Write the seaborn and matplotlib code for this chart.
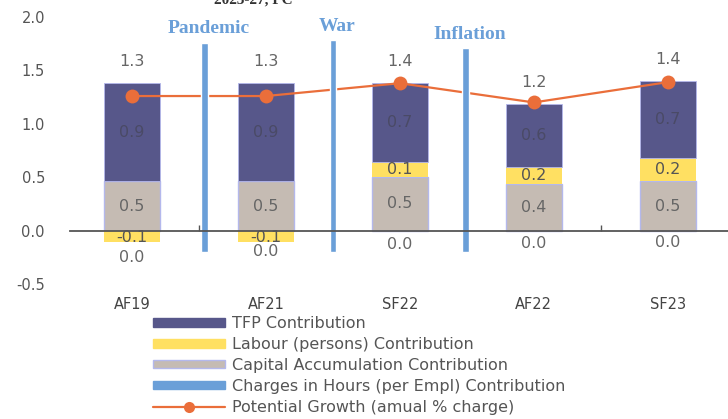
import numpy as np
import matplotlib
matplotlib.use("Agg")
import matplotlib.pyplot as plt
import seaborn as sns
from matplotlib.patches import Patch
from matplotlib.lines import Line2D

categories = ["AF19", "AF21", "SF22", "AF22", "SF23"]
tfp = [0.92, 0.92, 0.74, 0.59, 0.72]
labour = [-0.11, -0.11, 0.14, 0.16, 0.22]
capital = [0.46, 0.46, 0.50, 0.44, 0.46]
hours = [0.0, 0.0, 0.0, 0.0, 0.0]
potential = [1.26, 1.26, 1.38, 1.20, 1.39]
events = ["Pandemic", "War", "Inflation"]
event_pos = [0.54, 1.5, 2.49]
event_top = [1.76, 1.78, 1.71]

C_TFP = "#57578a"
C_LAB = "#ffe062"
C_CAP = "#c5bbb3"
C_CAP_EDGE = "#b4b8ec"
C_HRS = "#6a9fd8"
C_POT = "#ea6e3a"

sns.set_theme(style="white")
plt.rcParams["font.family"] = ["DejaVu Sans"]

fig = plt.figure(figsize=(7.28, 4.19), dpi=100)
ax = fig.add_axes([70 / 728, (419 - 284) / 419, 1 - 70 / 728, (284 - 17) / 419])

x = np.arange(len(categories))
bw = 0.42
pos_lab = np.array([max(v, 0) for v in labour])
neg_lab = np.array([min(v, 0) for v in labour])
cap = np.array(capital)

sns.barplot(x=categories, y=capital, color=C_CAP, width=bw, ax=ax,
            edgecolor=C_CAP_EDGE, linewidth=1.0, saturation=1)
sns.barplot(x=categories, y=list(pos_lab), bottom=cap, color=C_LAB, width=bw,
            ax=ax, linewidth=0, saturation=1)
sns.barplot(x=categories, y=list(neg_lab), color=C_LAB, width=bw, ax=ax,
            linewidth=0, saturation=1)
sns.barplot(x=categories, y=tfp, bottom=cap + pos_lab, color=C_TFP, width=bw,
            ax=ax, edgecolor=C_CAP_EDGE, linewidth=0.6, saturation=1)
sns.lineplot(x=x, y=potential, color=C_POT, lw=1.6, marker="o", markersize=10,
             markeredgewidth=0, ax=ax)

# event separators
for p, t, name in zip(event_pos, event_top, events):
    ax.bar(p, t + 0.2, bottom=-0.2, width=0.05, color=C_HRS, zorder=3)
    ax.text(p + 0.03, t + 0.13, name, ha="center", va="center", color=C_HRS,
            fontsize=14, fontweight="bold", family="Liberation Serif")

# labels
lab_col = "#666666"
in_col = "#4a4a66"
fs = 11.5
hours_y = [-0.25, -0.2, -0.13, -0.12, -0.11]
for i in range(len(categories)):
    top = cap[i] + pos_lab[i] + tfp[i]
    ax.text(i, top + 0.2, f"{potential[i]:.1f}", ha="center", va="center",
            color=lab_col, fontsize=fs)
    ax.text(i, cap[i] / 2, f"{capital[i]:.1f}", ha="center", va="center",
            color=lab_col, fontsize=fs)
    ax.text(i, cap[i] + pos_lab[i] + tfp[i] / 2, f"{tfp[i]:.1f}", ha="center",
            va="center", color=in_col, fontsize=fs)
    if labour[i] >= 0:
        ax.text(i, cap[i] + labour[i] / 2, f"{labour[i]:.1f}", ha="center",
                va="center", color="#555555", fontsize=fs)
    else:
        ax.text(i, labour[i] / 2 - 0.01, f"{labour[i]:.1f}", ha="center",
                va="center", color="#555555", fontsize=fs, zorder=5)
    ax.text(i, hours_y[i], f"{hours[i]:.1f}", ha="center", va="center",
            color=lab_col, fontsize=fs)

ax.set_ylim(-0.5, 2.0)
ax.set_xlim(-0.463, 4.45)
ax.set_yticks([-0.5, 0.0, 0.5, 1.0, 1.5, 2.0])
ax.set_yticklabels(["-0.5", "0.0", "0.5", "1.0", "1.5", "2.0"])
ax.tick_params(axis="y", length=0, labelsize=10.5, labelcolor="#555555", pad=18)
for s in ["top", "right", "left"]:
    ax.spines[s].set_visible(False)
ax.spines["bottom"].set_position(("data", 0))
ax.spines["bottom"].set_color("#555555")
ax.spines["bottom"].set_linewidth(1.3)
ax.spines["bottom"].set_zorder(4)
ax.tick_params(axis="x", which="major", length=0, labelsize=10.5,
               labelcolor="#444444", pad=48)
ax.set_xticks([0.5, 3.5], minor=True)
ax.tick_params(axis="x", which="minor", direction="in", length=4, width=1,
               color="#555555", bottom=True)
ax.set_xlabel("")
ax.set_ylabel("")
ax.grid(False)

fig.text(253 / 728, 1 - 4 / 419, "2023-27, PC", ha="center", va="baseline",
         fontsize=11, fontweight="bold", family="Liberation Serif", color="#333333")

handles = [
    Patch(facecolor=C_TFP, edgecolor=C_TFP),
    Patch(facecolor=C_LAB, edgecolor=C_LAB),
    Patch(facecolor=C_CAP, edgecolor=C_CAP_EDGE),
    Patch(facecolor=C_HRS, edgecolor=C_HRS),
    Line2D([0], [0], color=C_POT, lw=1.6, marker="o", markersize=8, markeredgewidth=0),
]
labels = ["TFP Contribution", "Labour (persons) Contribution",
          "Capital Accumulation Contribution",
          "Charges in Hours (per Empl) Contribution",
          "Potential Growth (amual % charge)"]
fig.legend(handles, labels, loc="upper left",
           bbox_to_anchor=(153 / 728, 1 - 316 / 419), frameon=False,
           fontsize=11.5, handlelength=4.5, handleheight=0.45, handletextpad=0.42,
           labelspacing=0.37, borderpad=0, borderaxespad=0, labelcolor="#555555")

fig.savefig("out.png", dpi=100)
